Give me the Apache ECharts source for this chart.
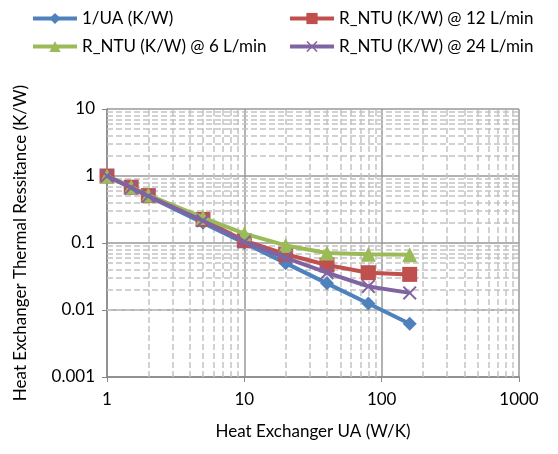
<!DOCTYPE html>
<html>
<head>
<meta charset="utf-8">
<script src="https://cdn.jsdelivr.net/npm/echarts@6/dist/echarts.min.js"></script>
<style>
html,body{margin:0;padding:0;background:#fff;}
#chart{width:558px;height:454px;}
</style>
</head>
<body>
<div id="chart"></div>
<script>
// heat exchanger UA (W/K)
var uaValues = [1, 1.5, 2, 5, 10, 20, 40, 80, 160];
// thermal resistance (K/W)
var invUA   = [1, 0.667, 0.5, 0.2, 0.1, 0.05, 0.025, 0.0125, 0.00625];
var ntu12   = [1, 0.68, 0.51, 0.225, 0.108, 0.068, 0.047, 0.036, 0.034];
var ntu6    = [1, 0.69, 0.52, 0.24, 0.138, 0.092, 0.071, 0.068, 0.067];
var ntu24   = [1, 0.67, 0.5, 0.215, 0.104, 0.06, 0.036, 0.0225, 0.018];
// minor (dashed) grid positions
var minorX = [2, 3, 4, 5, 6, 7, 8, 9, 20, 30, 40, 50, 60, 70, 80, 90, 200, 300, 400, 500, 600, 700, 800, 900];
var minorY = [0.002, 0.003, 0.004, 0.005, 0.006, 0.007, 0.008, 0.009,
              0.02, 0.03, 0.04, 0.05, 0.06, 0.07, 0.08, 0.09,
              0.2, 0.3, 0.4, 0.5, 0.6, 0.7, 0.8, 0.9,
              2, 3, 4, 5, 6, 7, 8, 9];

var names = ['1/UA (K/W)', 'R_NTU (K/W) @ 12 L/min', 'R_NTU (K/W) @ 6 L/min', 'R_NTU (K/W) @ 24 L/min'];
var colors = ['#4F81BD', '#C0504D', '#9BBB59', '#8064A2'];
var FONT = 'Lato';
var crossPath = 'path://M0,1L1,0L5,4L9,0L10,1L6,5L10,9L9,10L5,6L1,10L0,9L4,5Z';

function pairs(ys){
    var out = [];
    for (var i = 0; i < uaValues.length; i++) {
        out.push([uaValues[i], ys[i]]);
    }
    return out;
}

function lineSeries(idx, ys, symbol, size){
    return {
        name: names[idx],
        type: 'line',
        data: pairs(ys),
        symbol: symbol,
        symbolSize: size,
        z: 5 + idx,
        itemStyle: {color: colors[idx]},
        lineStyle: {color: colors[idx], width: 4}
    };
}

function plainNum(v){
    return String(+(+v).toPrecision(3));
}

var markData = [];
minorX.forEach(function(v){ markData.push({xAxis: v}); });
minorY.forEach(function(v){ markData.push({yAxis: v}); });

var legendBase = {
    orient: 'vertical', top: 5, itemGap: 11,
    itemWidth: 44, itemHeight: 14,
    lineStyle: {width: 4},
    textStyle: {fontFamily: FONT, fontSize: 17, color: '#000'}
};

var chart = echarts.init(document.getElementById('chart'));
var option = {
    animation: false,
    color: colors,
    textStyle: {fontFamily: FONT},
    legend: [
        echarts.util.extend({left: 26, data: [names[0], names[2]]}, legendBase),
        echarts.util.extend({left: 283, data: [names[1], names[3]]}, legendBase)
    ],
    grid: {left: 107, right: 39, top: 109, bottom: 77},
    xAxis: {
        type: 'log', logBase: 10, min: 1, max: 1000,
        name: 'Heat Exchanger UA (W/K)',
        nameLocation: 'middle', nameGap: 46,
        nameTextStyle: {fontFamily: FONT, fontSize: 17, color: '#000'},
        axisLine: {lineStyle: {color: '#888', width: 1.5}},
        axisTick: {show: true, length: 5, lineStyle: {color: '#888'}},
        axisLabel: {fontFamily: FONT, fontSize: 17, color: '#000', margin: 14, formatter: plainNum},
        splitLine: {show: true, lineStyle: {color: '#999', width: 1.5}}
    },
    yAxis: {
        type: 'log', logBase: 10, min: 0.001, max: 10,
        name: 'Heat Exchanger Thermal Ressitance (K/W)',
        nameLocation: 'middle', nameGap: 78,
        nameTextStyle: {fontFamily: FONT, fontSize: 17, color: '#000'},
        axisLine: {show: true, lineStyle: {color: '#888', width: 1.5}},
        axisTick: {show: true, length: 5, lineStyle: {color: '#888'}},
        axisLabel: {fontFamily: FONT, fontSize: 17, color: '#000', margin: 12, formatter: plainNum},
        splitLine: {show: true, lineStyle: {color: '#999', width: 1.5}}
    },
    series: [
        {
            type: 'line', data: [], z: 1, silent: true,
            markLine: {
                silent: true, symbol: ['none', 'none'],
                label: {show: false},
                lineStyle: {color: '#c4c4c4', type: [6, 3], width: 1.5},
                data: markData
            }
        },
        lineSeries(0, invUA, 'diamond', 14),
        lineSeries(1, ntu12, 'rect', 15),
        lineSeries(2, ntu6, 'triangle', 15),
        lineSeries(3, ntu24, crossPath, 14)
    ]
};
chart.setOption(option);
</script>
</body>
</html>
